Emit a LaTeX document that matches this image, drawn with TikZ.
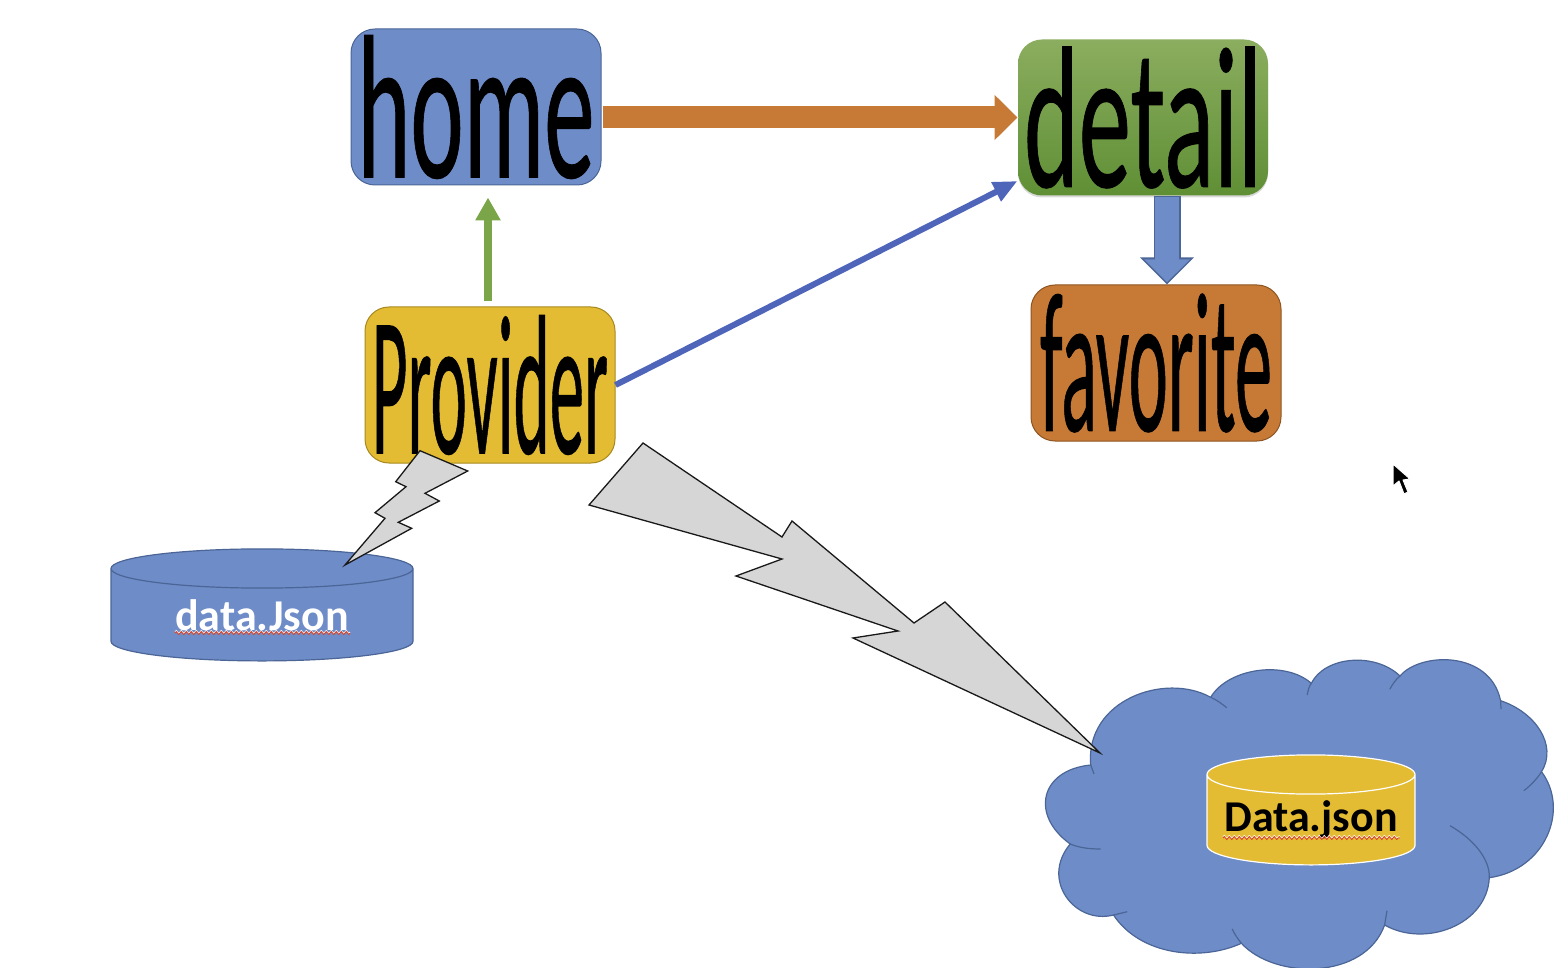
\documentclass[tikz,border=0pt]{standalone}
\usepackage{graphicx}
\usepackage{fontspec}
\setmainfont{Carlito}
\newfontfamily\thickfont[FakeBold=.6]{Carlito}
\usepackage{xcolor}
\usetikzlibrary{arrows.meta,shapes.geometric,shadows,decorations.pathmorphing}

\definecolor{fillblue}{HTML}{6E8CC8}
\definecolor{edgeblue}{HTML}{4A6596}
\definecolor{fillyellow}{HTML}{E3BC33}
\definecolor{edgeyellow}{HTML}{A8891F}
\definecolor{fillorange}{HTML}{C67A35}
\definecolor{edgeorange}{HTML}{8E5522}
\definecolor{boltgray}{HTML}{D6D6D6}
\definecolor{arrowgreen}{HTML}{7AA548}
\definecolor{arrowblue}{HTML}{4F65B9}
\definecolor{greentop}{HTML}{8BAD5F}
\definecolor{greenlow}{HTML}{5F8F35}
\definecolor{squigglered}{HTML}{D8452A}

\newcommand{\bigword}[3]{\resizebox{#1pt}{#2pt}{\thickfont #3}}

\tikzset{
    page/.style={rounded corners=24pt, minimum width=250pt, minimum height=156pt, inner sep=0pt, line width=1pt},
    store/.style={cylinder, shape border rotate=90, aspect=.226, inner sep=0pt, line width=1.2pt, font=\fontsize{44}{44}\selectfont\bfseries},
    bolt/.style={draw=black!90, fill=boltgray, line width=1.3pt, line join=miter},
    squiggle/.style={decorate, decoration={zigzag, segment length=5pt, amplitude=1.5pt}, line width=.9pt},
    lobe/.style={draw=edgeblue, line width=1.2pt}
}

\begin{document}
\begin{tikzpicture}[x=1pt, y=-1pt]
    \useasboundingbox (0,0) rectangle (1564,968);

    % cloud
    \coordinate (dipA) at (1090.7,765);
    \coordinate (dipB) at (1210.7,697.3);
    \coordinate (dipC) at (1311.3,683.3);
    \coordinate (dipD) at (1400,676);
    \coordinate (dipE) at (1500.6,700.7);
    \coordinate (dipF) at (1541.5,771.7);
    \coordinate (dipG) at (1489.3,877.7);
    \coordinate (dipH) at (1384.6,925);
    \coordinate (dipI) at (1241.4,943.3);
    \coordinate (dipJ) at (1113.5,915);
    \coordinate (dipK) at (1070.2,844);
    \draw[lobe, fill=fillblue] (dipA) .. controls (1085,700) and (1165,672) .. (dipB)
        .. controls (1228,668) and (1285,660) .. (dipC)
        .. controls (1325,656) and (1375,652) .. (dipD)
        .. controls (1420,652) and (1490,650) .. (dipE)
        .. controls (1535,712) and (1558,745) .. (dipF)
        .. controls (1570,810) and (1545,870) .. (dipG)
        .. controls (1487,925) and (1425,948) .. (dipH)
        .. controls (1365,980) and (1275,980) .. (dipI)
        .. controls (1200,962) and (1140,955) .. (dipJ)
        .. controls (1075,925) and (1040,880) .. (dipK)
        .. controls (1030,815) and (1040,770) .. (dipA) -- cycle;
    \draw[lobe] (dipA) -- (1094,774);
    \draw[lobe] (dipB) .. controls (1217,700) and (1222,704) .. (1226.8,707.7);
    \draw[lobe] (dipC) .. controls (1309,686) and (1308,691) .. (1307.2,695);
    \draw[lobe] (dipD) .. controls (1396,679) and (1392,685) .. (1389.8,689.3);
    \draw[lobe] (dipE) -- (1501,709);
    \draw[lobe] (dipF) .. controls (1537,779) and (1530,786) .. (1523.8,790.7);
    \draw[lobe] (dipG) .. controls (1490,860) and (1475,840) .. (1450,825.7);
    \draw[lobe] (dipH) -- (1387,910.7);
    \draw[lobe] (dipI) .. controls (1237,938) and (1234,933) .. (1232.2,929);
    \draw[lobe] (dipJ) -- (1127.2,911.7);
    \draw[lobe] (dipK) .. controls (1080,848) and (1090,849) .. (1100.6,849);

    % boxes
    \node[page, draw=edgeblue, fill=fillblue] (home) at (476,107) {\bigword{237}{142}{home}\hspace{29pt}};
    \node[page, top color=greentop, bottom color=greenlow, drop shadow={opacity=.3, shadow xshift=0pt, shadow yshift=-2pt}] (detail) at (1143,117.5) {\bigword{238}{140}{detail}\hspace{3pt}};
    \node[page, draw=edgeyellow, fill=fillyellow] (provider) at (490,385) {\bigword{236}{138}{Provider}\hspace{22pt}};
    \node[page, draw=edgeorange, fill=fillorange] (favorite) at (1156,363) {\bigword{232}{137}{favorite}\hspace{13pt}};

    % stores
    \node[store, draw=edgeblue, fill=fillblue, text=white, minimum width=302pt, minimum height=112pt] (localdata) at (262,615) {data.Json};
    \node[store, draw=white, fill=fillyellow, minimum width=208pt, minimum height=110pt] (clouddata) at (1311,820) {\raisebox{-2pt}{Data.json}};

    % squiggles under the misspelt words
    \coordinate (localleft) at (175,633);
    \coordinate (localright) at (350,633);
    \coordinate (cloudleft) at (1223,838);
    \coordinate (cloudright) at (1400,838);
    \draw[squiggle, white] ([yshift=1pt]localleft) -- ([yshift=1pt]localright);
    \draw[squiggle, squigglered] (localleft) -- (localright);
    \draw[squiggle, white] ([yshift=1pt]cloudleft) -- ([yshift=1pt]cloudright);
    \draw[squiggle, squigglered] (cloudleft) -- (cloudright);

    % arrows
    \draw[line width=24pt, white, -{Triangle[length=25pt,width=47pt]}] (home.east |- detail.west) -- ([xshift=1pt]detail.west);
    \draw[line width=22pt, fillorange, -{Triangle[length=23pt,width=44pt]}] ([xshift=1pt]home.east |- detail.west) -- (detail.west);
    \draw[line width=8pt, arrowgreen, -{Triangle[length=23pt,width=24pt]}] ([xshift=-2pt,yshift=5pt]provider.north) -- ([xshift=12pt,yshift=-12pt]home.south);
    \draw[line width=6pt, arrowblue, -{Triangle[length=24pt,width=20pt]}] (provider.east) -- ([yshift=-63.5pt]detail.west);
    \draw[line width=27pt, edgeblue, -{Triangle[length=27pt,width=52pt]}] ([xshift=24pt]detail.south) -- ([xshift=11pt]favorite.north);
    \draw[line width=24pt, fillblue, -{Triangle[length=23pt,width=44.5pt]}] ([xshift=24pt,yshift=-1pt]detail.south) -- ([xshift=11pt,yshift=2.2pt]favorite.north);

    % lightning bolts
    \draw[bolt] (420,450.7) -- (467.7,471) -- (425,493.3) -- (439.3,501) -- (398.3,522.3) -- (411.7,528.3) -- (345,565) -- (385,518.3) -- (375,512.7) -- (406,486.7) -- (395.7,481.7) -- cycle;
    \draw[bolt] (643,443) -- (782,537) -- (792,521) -- (914,623) -- (945,602) -- (1100,753) -- (853,638) -- (898,631) -- (736,576) -- (782,559) -- (589,505) -- cycle;

    % mouse pointer
    \draw[white, fill=black, line width=1pt, line join=round] (1393,464) -- (1393,486) -- (1399,481) -- (1404,494) -- (1408,492) -- (1403,480) -- (1410,479) -- cycle;
\end{tikzpicture}
\end{document}
